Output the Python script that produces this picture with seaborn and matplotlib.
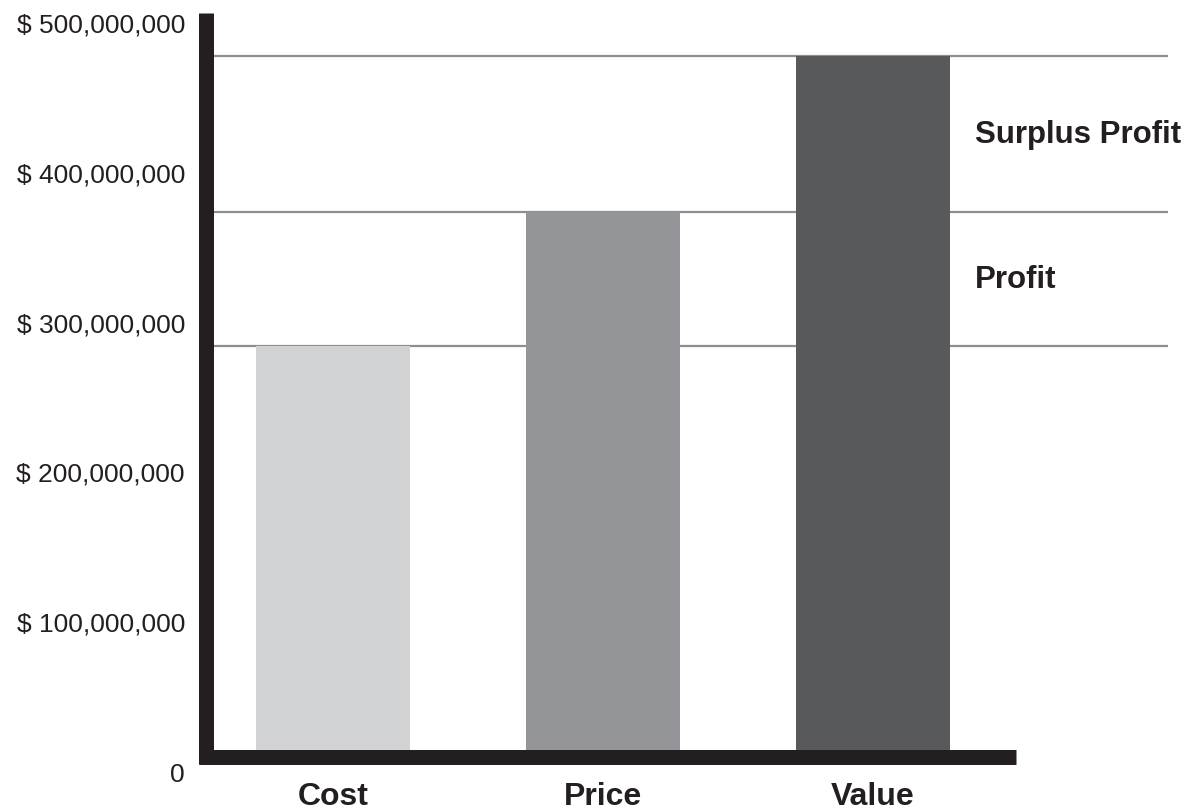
import matplotlib
matplotlib.use("Agg")
import matplotlib.pyplot as plt
import matplotlib.transforms as mtransforms
from matplotlib.ticker import FuncFormatter
import seaborn as sns

categories = ["Cost", "Price", "Value"]
amounts = [270_000_000, 359_000_000, 463_000_000]
bar_colors = ["#d1d2d4", "#939598", "#58595b"]
band_labels = ["Profit", "Surplus Profit"]
y_ticks = [0, 100_000_000, 200_000_000, 300_000_000, 400_000_000, 500_000_000]

sns.set_theme(style="white")
plt.rcParams["font.family"] = ["Liberation Sans", "DejaVu Sans"]

ink = "#231f20"

fig = plt.figure(figsize=(11.88, 8.12), dpi=100)
ax = fig.add_axes([0.17929, 0.075123, 0.80387, 0.92334])

# Level lines behind the bars
for v in amounts:
    ax.axhline(v, color="#8d8e91", linewidth=1.6, zorder=0.5)

sns.barplot(x=categories, y=amounts, hue=categories, palette=bar_colors,
            legend=False, width=0.57, saturation=1, linewidth=0,
            edgecolor="none", ax=ax, zorder=2)

ax.set_xlim(-0.4444, 3.0926)
ax.set_ylim(0, 500_500_000)
ax.set_yticks(y_ticks)
ax.yaxis.set_major_formatter(
    FuncFormatter(lambda v, p: "0" if v == 0 else "$ {:,.0f}".format(v)))
ax.set_xlabel("")
ax.set_ylabel("")

# Thick black axis lines
for side in ["top", "right"]:
    ax.spines[side].set_visible(False)
for side in ["left", "bottom"]:
    sp = ax.spines[side]
    sp.set_position(("outward", 5.0))
    sp.set_linewidth(10.8)
    sp.set_color(ink)
    sp.set_capstyle("butt")
    sp.set_zorder(3)
ax.spines["left"].set_bounds(-9_600_000, 492_000_000)
ax.spines["bottom"].set_bounds(-0.497, 2.528)

ax.tick_params(axis="y", length=0, pad=15.2, labelsize=19, labelcolor=ink)
ax.tick_params(axis="x", length=0, pad=17.5, labelsize=23, labelcolor=ink)
for lab in ax.get_xticklabels():
    lab.set_fontweight("bold")

# y labels sit a little below their levels in the reference
shift = mtransforms.ScaledTranslation(0, -0.21, fig.dpi_scale_trans)
for lab in ax.get_yticklabels():
    lab.set_transform(lab.get_transform() + shift)

# Band labels between the level lines
ax.text(2.376, (amounts[0] + amounts[1]) / 2, band_labels[0], ha="left",
        va="center", fontsize=22.5, fontweight="bold", color=ink)
ax.text(2.376, (amounts[1] + amounts[2]) / 2, band_labels[1], ha="left",
        va="center", fontsize=22.5, fontweight="bold", color=ink)

fig.savefig("out.png", dpi=100)
